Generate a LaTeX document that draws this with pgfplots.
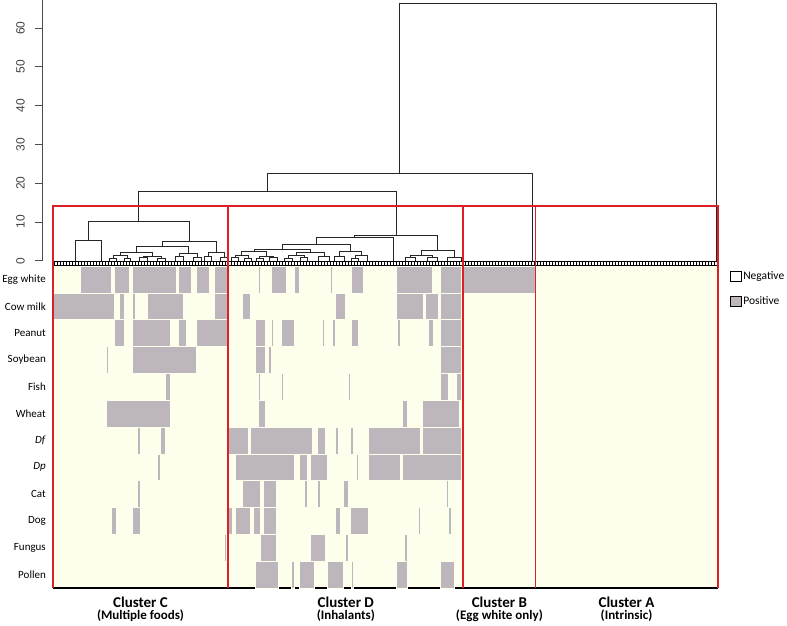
\documentclass[border=0pt]{standalone}
\usepackage{pgfplots}
\pgfplotsset{compat=1.18}
\usepackage{fontspec}
\setmainfont{Carlito}
\newfontfamily\arialfont{Liberation Sans}
\definecolor{posgray}{RGB}{190,182,189}
\definecolor{heatbg}{RGB}{254,254,236}
\definecolor{redbox}{RGB}{222,32,38}
\pgfplotsset{
  blk/.style={fill=posgray, draw=heatbg, line width=0.5pt, forget plot},
  dend/.style={black!85, line width=0.75pt, forget plot},
  rbox/.style={redbox, line width=1.8pt, forget plot},
}
\begin{document}
\begin{tikzpicture}
\useasboundingbox (0,0) rectangle (787pt,626pt);
% ---------------- heatmap ----------------
\begin{axis}[
  at={(53pt,38pt)}, anchor=south west,
  scale only axis, width=665pt, height=322pt,
  xmin=53, xmax=718, ymin=0, ymax=12, y dir=reverse,
  axis background/.style={fill=heatbg},
  axis x line*=bottom, axis y line*=left,
  x axis line style={black, line width=1.3pt, -},
  y axis line style={draw=none, -},
  major tick length=0pt,
  ytick={0.5,1.5,...,11.5},
  yticklabels={Egg white, Cow milk, Peanut, Soybean, Fish, Wheat, \textit{Df}, \textit{Dp}, Cat, Dog, Fungus, Pollen},
  yticklabel style={anchor=east, inner sep=0pt, xshift=-7pt, font=\fontsize{11}{12}\selectfont},
  xtick={140.5,345.8,499.4,626.5},
  xticklabels={
    {\fontsize{15}{15}\selectfont\bfseries Cluster C\\\fontsize{13}{13}\selectfont\bfseries (Multiple foods)},
    {\fontsize{15}{15}\selectfont\bfseries Cluster D\\\fontsize{13}{13}\selectfont\bfseries (Inhalants)},
    {\fontsize{15}{15}\selectfont\bfseries Cluster B\\\fontsize{13}{13}\selectfont\bfseries (Egg white only)},
    {\fontsize{15}{15}\selectfont\bfseries Cluster A\\\fontsize{13}{13}\selectfont\bfseries (Intrinsic)}},
  xticklabel style={align=center, anchor=north, inner sep=0pt, yshift=-9pt},
  legend image code/.code={\draw[#1] (0pt,-5pt) rectangle (10.5pt,5pt);},
  legend style={at={(1,1)}, anchor=north west, xshift=12pt, yshift=-3pt,
    draw=none, fill=none, inner sep=0pt, font=\fontsize{11.5}{13}\selectfont,
    row sep=12pt, cells={anchor=west}},
]
\addlegendimage{fill=white, draw=black, line width=0.6pt}
\addlegendentry{Negative}
\addlegendimage{fill=posgray, draw=black, line width=0.6pt}
\addlegendentry{Positive}
% row 0: Egg white
\addplot[blk] coordinates {(80.5,0) (111,0) (111,1) (80.5,1)} --cycle;
\addplot[blk] coordinates {(114,0) (129.5,0) (129.5,1) (114,1)} --cycle;
\addplot[blk] coordinates {(132,0) (176,0) (176,1) (132,1)} --cycle;
\addplot[blk] coordinates {(178.5,0) (191.5,0) (191.5,1) (178.5,1)} --cycle;
\addplot[blk] coordinates {(196.5,0) (209.5,0) (209.5,1) (196.5,1)} --cycle;
\addplot[blk] coordinates {(214.5,0) (228.3,0) (228.3,1) (214.5,1)} --cycle;
\addplot[blk] coordinates {(258.5,0) (260.5,0) (260.5,1) (258.5,1)} --cycle;
\addplot[blk] coordinates {(271,0) (286,0) (286,1) (271,1)} --cycle;
\addplot[blk] coordinates {(294,0) (299.5,0) (299.5,1) (294,1)} --cycle;
\addplot[blk] coordinates {(330,0) (332.5,0) (332.5,1) (330,1)} --cycle;
\addplot[blk] coordinates {(351,0) (363.5,0) (363.5,1) (351,1)} --cycle;
\addplot[blk] coordinates {(396.5,0) (432.5,0) (432.5,1) (396.5,1)} --cycle;
\addplot[blk] coordinates {(440.5,0) (461.5,0) (461.5,1) (440.5,1)} --cycle;
\addplot[blk] coordinates {(463.3,0) (535.5,0) (535.5,1) (463.3,1)} --cycle;
% row 1: Cow milk
\addplot[blk] coordinates {(53,1) (114,1) (114,2) (53,2)} --cycle;
\addplot[blk] coordinates {(119.5,1) (124,1) (124,2) (119.5,2)} --cycle;
\addplot[blk] coordinates {(132,1) (135,1) (135,2) (132,2)} --cycle;
\addplot[blk] coordinates {(147,1) (183,1) (183,2) (147,2)} --cycle;
\addplot[blk] coordinates {(214,1) (228.3,1) (228.3,2) (214,2)} --cycle;
\addplot[blk] coordinates {(242.5,1) (250.5,1) (250.5,2) (242.5,2)} --cycle;
\addplot[blk] coordinates {(335.5,1) (345.5,1) (345.5,2) (335.5,2)} --cycle;
\addplot[blk] coordinates {(396.5,1) (423.5,1) (423.5,2) (396.5,2)} --cycle;
\addplot[blk] coordinates {(425.5,1) (438.5,1) (438.5,2) (425.5,2)} --cycle;
\addplot[blk] coordinates {(440.5,1) (461.5,1) (461.5,2) (440.5,2)} --cycle;
% row 2: Peanut
\addplot[blk] coordinates {(114,2) (124,2) (124,3) (114,3)} --cycle;
\addplot[blk] coordinates {(132,2) (170,2) (170,3) (132,3)} --cycle;
\addplot[blk] coordinates {(178.5,2) (186,2) (186,3) (178.5,3)} --cycle;
\addplot[blk] coordinates {(196.5,2) (227,2) (227,3) (196.5,3)} --cycle;
\addplot[blk] coordinates {(255.5,2) (265.5,2) (265.5,3) (255.5,3)} --cycle;
\addplot[blk] coordinates {(271,2) (273.5,2) (273.5,3) (271,3)} --cycle;
\addplot[blk] coordinates {(281.5,2) (294,2) (294,3) (281.5,3)} --cycle;
\addplot[blk] coordinates {(322.5,2) (324.5,2) (324.5,3) (322.5,3)} --cycle;
\addplot[blk] coordinates {(332.5,2) (335.5,2) (335.5,3) (332.5,3)} --cycle;
\addplot[blk] coordinates {(351,2) (358.5,2) (358.5,3) (351,3)} --cycle;
\addplot[blk] coordinates {(397.5,2) (400,2) (400,3) (397.5,3)} --cycle;
\addplot[blk] coordinates {(428,2) (433.5,2) (433.5,3) (428,3)} --cycle;
\addplot[blk] coordinates {(440.5,2) (461.5,2) (461.5,3) (440.5,3)} --cycle;
% row 3: Soybean
\addplot[blk] coordinates {(106.5,3) (108.5,3) (108.5,4) (106.5,4)} --cycle;
\addplot[blk] coordinates {(132,3) (196.5,3) (196.5,4) (132,4)} --cycle;
\addplot[blk] coordinates {(255.5,3) (265.5,3) (265.5,4) (255.5,4)} --cycle;
\addplot[blk] coordinates {(268.5,3) (271,3) (271,4) (268.5,4)} --cycle;
\addplot[blk] coordinates {(440.5,3) (461.5,3) (461.5,4) (440.5,4)} --cycle;
% row 4: Fish
\addplot[blk] coordinates {(165.5,4) (170,4) (170,5) (165.5,5)} --cycle;
\addplot[blk] coordinates {(258.5,4) (260.5,4) (260.5,5) (258.5,5)} --cycle;
\addplot[blk] coordinates {(281.5,4) (283.5,4) (283.5,5) (281.5,5)} --cycle;
\addplot[blk] coordinates {(348,4) (350.5,4) (350.5,5) (348,5)} --cycle;
\addplot[blk] coordinates {(440.5,4) (448.5,4) (448.5,5) (440.5,5)} --cycle;
\addplot[blk] coordinates {(456.5,4) (461.5,4) (461.5,5) (456.5,5)} --cycle;
% row 5: Wheat
\addplot[blk] coordinates {(106.5,5) (170,5) (170,6) (106.5,6)} --cycle;
\addplot[blk] coordinates {(258.5,5) (265.5,5) (265.5,6) (258.5,6)} --cycle;
\addplot[blk] coordinates {(402.5,5) (407.5,5) (407.5,6) (402.5,6)} --cycle;
\addplot[blk] coordinates {(422.5,5) (459.5,5) (459.5,6) (422.5,6)} --cycle;
% row 6: Df
\addplot[blk] coordinates {(137.5,6) (140,6) (140,7) (137.5,7)} --cycle;
\addplot[blk] coordinates {(160,6) (165.5,6) (165.5,7) (160,7)} --cycle;
\addplot[blk] coordinates {(228.3,6) (248.5,6) (248.5,7) (228.3,7)} --cycle;
\addplot[blk] coordinates {(250.5,6) (312,6) (312,7) (250.5,7)} --cycle;
\addplot[blk] coordinates {(317.5,6) (325,6) (325,7) (317.5,7)} --cycle;
\addplot[blk] coordinates {(335.5,6) (338,6) (338,7) (335.5,7)} --cycle;
\addplot[blk] coordinates {(350.5,6) (353.5,6) (353.5,7) (350.5,7)} --cycle;
\addplot[blk] coordinates {(368.5,6) (420,6) (420,7) (368.5,7)} --cycle;
\addplot[blk] coordinates {(422.5,6) (461.5,6) (461.5,7) (422.5,7)} --cycle;
% row 7: Dp
\addplot[blk] coordinates {(157.5,7) (160,7) (160,8) (157.5,8)} --cycle;
\addplot[blk] coordinates {(235,7) (294,7) (294,8) (235,8)} --cycle;
\addplot[blk] coordinates {(299.5,7) (307.5,7) (307.5,8) (299.5,8)} --cycle;
\addplot[blk] coordinates {(310,7) (327.5,7) (327.5,8) (310,8)} --cycle;
\addplot[blk] coordinates {(356,7) (358.5,7) (358.5,8) (356,8)} --cycle;
\addplot[blk] coordinates {(368.5,7) (400,7) (400,8) (368.5,8)} --cycle;
\addplot[blk] coordinates {(402.5,7) (461.5,7) (461.5,8) (402.5,8)} --cycle;
% row 8: Cat
\addplot[blk] coordinates {(137.5,8) (140,8) (140,9) (137.5,9)} --cycle;
\addplot[blk] coordinates {(242.5,8) (260.5,8) (260.5,9) (242.5,9)} --cycle;
\addplot[blk] coordinates {(263.5,8) (276,8) (276,9) (263.5,9)} --cycle;
\addplot[blk] coordinates {(304.5,8) (307.5,8) (307.5,9) (304.5,9)} --cycle;
\addplot[blk] coordinates {(317.5,8) (320,8) (320,9) (317.5,9)} --cycle;
\addplot[blk] coordinates {(343,8) (348,8) (348,9) (343,9)} --cycle;
\addplot[blk] coordinates {(446,8) (448.5,8) (448.5,9) (446,9)} --cycle;
% row 9: Dog
\addplot[blk] coordinates {(111.5,9) (116.5,9) (116.5,10) (111.5,10)} --cycle;
\addplot[blk] coordinates {(132,9) (140,9) (140,10) (132,10)} --cycle;
\addplot[blk] coordinates {(228.3,9) (232.5,9) (232.5,10) (228.3,10)} --cycle;
\addplot[blk] coordinates {(235,9) (250.5,9) (250.5,10) (235,10)} --cycle;
\addplot[blk] coordinates {(253.5,9) (260.5,9) (260.5,10) (253.5,10)} --cycle;
\addplot[blk] coordinates {(263.5,9) (276,9) (276,10) (263.5,10)} --cycle;
\addplot[blk] coordinates {(335.5,9) (340.5,9) (340.5,10) (335.5,10)} --cycle;
\addplot[blk] coordinates {(350.5,9) (368.5,9) (368.5,10) (350.5,10)} --cycle;
\addplot[blk] coordinates {(418,9) (420.5,9) (420.5,10) (418,10)} --cycle;
\addplot[blk] coordinates {(448.5,9) (451,9) (451,10) (448.5,10)} --cycle;
% row 10: Fungus
\addplot[blk] coordinates {(224.5,10) (226.5,10) (226.5,11) (224.5,11)} --cycle;
\addplot[blk] coordinates {(260.5,10) (276,10) (276,11) (260.5,11)} --cycle;
\addplot[blk] coordinates {(310,10) (325,10) (325,11) (310,11)} --cycle;
\addplot[blk] coordinates {(345.5,10) (348,10) (348,11) (345.5,11)} --cycle;
\addplot[blk] coordinates {(404.5,10) (407.5,10) (407.5,11) (404.5,11)} --cycle;
% row 11: Pollen
\addplot[blk] coordinates {(255.5,11) (278.5,11) (278.5,12) (255.5,12)} --cycle;
\addplot[blk] coordinates {(291.5,11) (294,11) (294,12) (291.5,12)} --cycle;
\addplot[blk] coordinates {(299.5,11) (314.5,11) (314.5,12) (299.5,12)} --cycle;
\addplot[blk] coordinates {(327.5,11) (343,11) (343,12) (327.5,12)} --cycle;
\addplot[blk] coordinates {(351,11) (353.5,11) (353.5,12) (351,12)} --cycle;
\addplot[blk] coordinates {(396.5,11) (407.5,11) (407.5,12) (396.5,12)} --cycle;
\addplot[blk] coordinates {(440.5,11) (454.5,11) (454.5,12) (440.5,12)} --cycle;
\end{axis}
% ---------------- leaf comb ----------------
\begin{axis}[
  at={(53pt,360.5pt)}, anchor=south west,
  scale only axis, width=665pt, height=4pt,
  xmin=53, xmax=718, ymin=0, ymax=1,
  xtick={54.5,57.5,...,717}, xticklabels={}, ytick=\empty,
  tick align=inside, major tick length=4pt,
  tick style={black, line width=0.45pt},
  axis line style={black, line width=0.6pt},
]
\end{axis}
% ---------------- dendrogram ----------------
\begin{axis}[
  at={(53pt,365.3pt)}, anchor=south west,
  scale only axis, width=665pt, height=260.6pt,
  xmin=53, xmax=718, ymin=0, ymax=67.2, clip=false,
  axis x line=none, axis y line*=left,
  y axis line style={black!70, line width=0.7pt, xshift=-11pt, -},
  ytick={0,10,...,60}, tick align=outside, major tick length=7pt,
  ytick style={black!70, line width=0.7pt, xshift=-11pt},
  yticklabel shift=21pt,
  yticklabel style={rotate=90, anchor=south, inner sep=0pt,
    font=\arialfont\fontsize{12}{14}\selectfont, text=black!75},
  /pgf/number format/assume math mode=true,
]
% top levels
\addplot[dend] coordinates {(399.5,22.4) (399.5,66.4) (716.7,66.4) (716.7,-0.2)};
\addplot[dend] coordinates {(267.5,18.0) (267.5,22.4) (532,22.4) (532,-0.2)};
\addplot[dend] coordinates {(138.5,10.1) (138.5,18.0) (396,18.0) (396,6.6)};
% cluster C
\addplot[dend] coordinates {(88,5.2) (88,10.1) (189,10.1) (189,4.9)};
\addplot[dend] coordinates {(75,-0.2) (75,5.2) (101,5.2) (101,-0.2)};
\addplot[dend] coordinates {(162,3.8) (162,4.9) (216,4.9) (216,2.2)};
\addplot[dend] coordinates {(136,2.2) (136,3.8) (188,3.8) (188,1.9)};
\addplot[dend] coordinates {(120,1.3) (120,2.2) (152,2.2) (152,1.2)};
\addplot[dend] coordinates {(113,0.7) (113,1.3) (127,1.3) (127,0.6)};
\addplot[dend] coordinates {(109.5,-0.2) (109.5,0.7) (116.5,0.7) (116.5,-0.2)};
\addplot[dend] coordinates {(124,-0.2) (124,0.6) (130,0.6) (130,-0.2)};
\addplot[dend] coordinates {(143,0.8) (143,1.2) (161,1.2) (161,0.7)};
\addplot[dend] coordinates {(139,-0.2) (139,0.8) (147,0.8) (147,-0.2)};
\addplot[dend] coordinates {(157,-0.2) (157,0.7) (165,0.7) (165,-0.2)};
\addplot[dend] coordinates {(179,1.0) (179,1.9) (197,1.9) (197,0.8)};
\addplot[dend] coordinates {(175,-0.2) (175,1.0) (183,1.0) (183,-0.2)};
\addplot[dend] coordinates {(193,-0.2) (193,0.8) (201,0.8) (201,-0.2)};
\addplot[dend] coordinates {(208,1.0) (208,2.2) (224,2.2) (224,0.9)};
\addplot[dend] coordinates {(204.5,-0.2) (204.5,1.0) (211.5,1.0) (211.5,-0.2)};
\addplot[dend] coordinates {(220.5,-0.2) (220.5,0.9) (227.5,0.9) (227.5,-0.2)};
% cluster D
\addplot[dend] coordinates {(354.5,5.9) (354.5,6.6) (437.5,6.6) (437.5,2.76)};
\addplot[dend] coordinates {(316,4.2) (316,5.9) (393,5.9) (393,-0.2)};
\addplot[dend] coordinates {(282,2.94) (282,4.2) (350,4.2) (350,2.5)};
\addplot[dend] coordinates {(254,2.5) (254,2.94) (310,2.94) (310,2.2)};
\addplot[dend] coordinates {(241.5,1.5) (241.5,2.5) (266.5,2.5) (266.5,1.2)};
\addplot[dend] coordinates {(235,0.8) (235,1.5) (248,1.5) (248,0.7)};
\addplot[dend] coordinates {(231.5,-0.2) (231.5,0.8) (238.5,0.8) (238.5,-0.2)};
\addplot[dend] coordinates {(244.5,-0.2) (244.5,0.7) (251.5,0.7) (251.5,-0.2)};
\addplot[dend] coordinates {(259.5,0.7) (259.5,1.2) (273.5,1.2) (273.5,0.9)};
\addplot[dend] coordinates {(256,-0.2) (256,0.7) (263,0.7) (263,-0.2)};
\addplot[dend] coordinates {(269.5,-0.2) (269.5,0.9) (277.5,0.9) (277.5,-0.2)};
\addplot[dend] coordinates {(296,1.3) (296,2.2) (324,2.2) (324,1.0)};
\addplot[dend] coordinates {(288,0.7) (288,1.3) (304,1.3) (304,0.8)};
\addplot[dend] coordinates {(284,-0.2) (284,0.7) (292,0.7) (292,-0.2)};
\addplot[dend] coordinates {(300.5,-0.2) (300.5,0.8) (307.5,0.8) (307.5,-0.2)};
\addplot[dend] coordinates {(318.5,-0.2) (318.5,1.0) (329.5,1.0) (329.5,-0.2)};
\addplot[dend] coordinates {(339,1.2) (339,2.5) (361,2.5) (361,1.5)};
\addplot[dend] coordinates {(334,-0.2) (334,1.2) (344,1.2) (344,-0.2)};
\addplot[dend] coordinates {(355,0.7) (355,1.5) (367,1.5) (367,-0.2)};
\addplot[dend] coordinates {(351.5,-0.2) (351.5,0.7) (358.5,0.7) (358.5,-0.2)};
\addplot[dend] coordinates {(421,1.5) (421,2.76) (454,2.76) (454,0.9)};
\addplot[dend] coordinates {(410,0.8) (410,1.5) (432,1.5) (432,0.9)};
\addplot[dend] coordinates {(405,-0.2) (405,0.8) (415,0.8) (415,-0.2)};
\addplot[dend] coordinates {(427,-0.2) (427,0.9) (437,0.9) (437,-0.2)};
\addplot[dend] coordinates {(447,-0.2) (447,0.9) (461,0.9) (461,-0.2)};
% red cluster frames
\addplot[rbox] coordinates {(53,-84.4) (53,14.1) (718,14.1) (718,-84.4)};
\addplot[rbox] coordinates {(228.3,-84.4) (228.3,14.1)};
\addplot[rbox] coordinates {(463.3,-84.4) (463.3,14.1)};
\addplot[rbox] coordinates {(535.5,-84.4) (535.5,14.1)};
\end{axis}
\end{tikzpicture}
\end{document}
